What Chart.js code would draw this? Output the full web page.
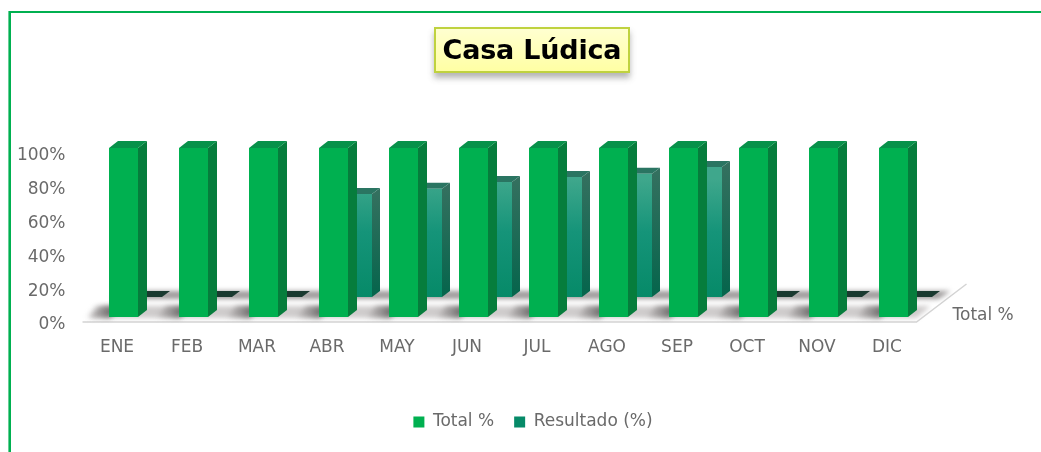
<!DOCTYPE html>
<html><head><meta charset="utf-8">
<style>
html,body{margin:0;padding:0;background:#fff;width:1041px;height:452px;overflow:hidden}
#wrap{position:relative;width:1041px;height:452px}
canvas{position:absolute;left:0;top:0}
#ft{position:absolute;left:8px;top:11px;right:0;height:2px;background:#00b050}
#fl{position:absolute;left:8px;top:11px;bottom:0;width:3px;background:linear-gradient(90deg,#66cf96 0,#66cf96 33%,#00b050 33%)}
#title{position:absolute;left:434px;top:27px;width:192px;height:42px;border:2px solid #bfd23f;background:linear-gradient(#ffffd0,#ffffa4);box-shadow:0 5px 6px rgba(90,90,90,.45);font:bold 27px "DejaVu Sans",sans-serif;color:#000;text-align:center;line-height:42px;white-space:nowrap;letter-spacing:-.2px;z-index:2}
</style></head><body>
<div id="wrap">
<div id="ft"></div><div id="fl"></div>
<canvas id="c" width="1041" height="452"></canvas>
<div id="title">Casa Lúdica</div>
</div>
<script src="https://cdn.jsdelivr.net/npm/chart.js@4"></script>
<script>
const categories=['ENE','FEB','MAR','ABR','MAY','JUN','JUL','AGO','SEP','OCT','NOV','DIC'];
const totalValues=[100,100,100,100,100,100,100,100,100,100,100,100];
const resultadoValues=[0,0,0,61,64,68,71,73,77,0,0,0];
const seriesNames=['Total %','Resultado (%)'];
const yTicks=[0,20,40,60,80,100];
const FONT='"DejaVu Sans", sans-serif';
const GREY='#6a6a6a';
const DEPTH=[{dx:9,dy:-7,top:'#07914a',sideT:'#067d3c',sideB:'#067d3c',flat:'#07914a'},
             {dx:8,dy:-6,top:'#2a7562',sideT:'#33705f',sideB:'#05654c',flat:'#1a3a30'}];
function poly(c,p,fill){c.beginPath();p.forEach((q,i)=>i?c.lineTo(q[0],q[1]):c.moveTo(q[0],q[1]));c.closePath();c.fillStyle=fill;c.fill();}
const plugin3d={
  id:'plugin3d',
  afterLayout(ch){ch.legend.left+=12.5;ch.legend.right+=12.5;},
  beforeDatasetsDraw(ch){
    const c=ch.ctx,y0=ch.scales.y.getPixelForValue(0),yb=ch.scales.yBack.getPixelForValue(0);
    const bars=ch.getDatasetMeta(0).data;
    const l=bars[0].x-41,r=bars[bars.length-1].x+23,skew=50;
    c.save();
    c.strokeStyle='#d4d4d4';c.lineWidth=1.5;c.beginPath();
    c.moveTo(l,y0+5);c.lineTo(r,y0+5);c.lineTo(r+skew,y0+5-38);c.stroke();
    c.filter='blur(2.5px)';
    poly(c,[[l+28,yb+2],[r+22,yb+2],[r+34,yb-6],[l+40,yb-6]],'#9c9999');
    poly(c,[[l+6,y0+1],[r,y0+1],[r+14,y0-11],[l+20,y0-11]],'#cfcccc');
    bars.forEach(b=>{
      const L=b.x-b.width/2;
      const g=c.createLinearGradient(L-24,0,L+4,0);
      g.addColorStop(0,'rgba(110,106,106,0)');g.addColorStop(1,'rgba(100,96,96,.95)');
      poly(c,[[L-24,y0+1],[L+1,y0+1],[L+12,y0-11],[L-13,y0-11]],g);
    });
    c.restore();
  },
  beforeDatasetDraw(ch,args){
    const c=ch.ctx,d=DEPTH[args.index];
    const s=ch.getDatasetMeta(args.index);
    s.data.forEach(b=>{
      const L=b.x-b.width/2,R=b.x+b.width/2,T=b.y,B=b.base;
      const g=c.createLinearGradient(0,T,0,B);g.addColorStop(0,d.sideT);g.addColorStop(1,d.sideB);
      if(B-T>1)poly(c,[[R,T],[R+d.dx,T+d.dy],[R+d.dx,B+d.dy],[R,B]],g);
      poly(c,[[L,T],[R,T],[R+d.dx,T+d.dy],[L+d.dx,T+d.dy]],B-T>1?d.top:d.flat);
    });
  },
  afterDatasetsDraw(ch){
    const c=ch.ctx;
    c.save();c.font='17px '+FONT;c.fillStyle=GREY;c.textAlign='left';c.textBaseline='middle';
    c.fillText(seriesNames[0],ch.chartArea.right+12,ch.scales.y.getPixelForValue(0)-1);
    c.restore();
  }
};
function backFill(ctx){
  const ch=ctx.chart;
  if(!ch.chartArea)return '#148f72';
  const sc=ch.scales.yBack;
  const g=ch.ctx.createLinearGradient(0,sc.getPixelForValue(70),0,sc.getPixelForValue(0));
  g.addColorStop(0,'#3fa78c');g.addColorStop(.45,'#159479');g.addColorStop(1,'#068a68');
  return g;
}
new Chart(document.getElementById('c'),{
  type:'bar',
  data:{labels:categories,datasets:[
    {label:seriesNames[0],data:totalValues,backgroundColor:'#00b050',yAxisID:'y',barPercentage:29/24,categoryPercentage:48/70},
    {label:seriesNames[1],data:resultadoValues,backgroundColor:backFill,yAxisID:'yBack',barPercentage:29/24,categoryPercentage:48/70}
  ]},
  options:{
    responsive:false,animation:false,
    layout:{padding:{left:0,right:0,top:148,bottom:11.5}},
    plugins:{
      title:{display:false},tooltip:{enabled:false},
      legend:{position:'bottom',labels:{boxWidth:11,boxHeight:11,padding:20,color:GREY,font:{family:FONT,size:17}}}
    },
    scales:{
      x:{grid:{display:false,drawTicks:false},border:{display:false},
         ticks:{color:GREY,font:{family:FONT,size:17},labelOffset:-18.5,padding:20,maxRotation:0,autoSkip:false},
         afterFit(s){s.height=76.5;}},
      y:{min:0,max:100,position:'left',grid:{display:false,drawTicks:false},border:{display:false},
         afterBuildTicks(s){s.ticks=yTicks.map(v=>({value:v}));},
         ticks:{color:GREY,font:{family:FONT,size:17},labelOffset:8,padding:35,callback:v=>v+'%'},
         afterFit(s){s.width=100.5;}},
      yBack:{min:-11.83,max:88.17,position:'right',display:true,grid:{display:false,drawTicks:false},border:{display:false},
         ticks:{display:false},afterFit(s){s.width=100.5;}}
    }
  },
  plugins:[plugin3d]
});
</script>
</body></html>
